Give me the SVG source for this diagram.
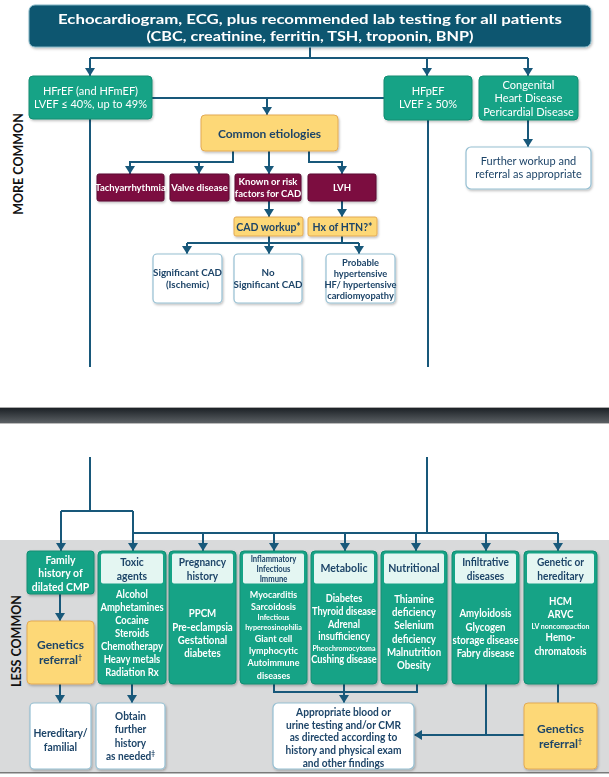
<svg xmlns="http://www.w3.org/2000/svg" width="609" height="777" viewBox="0 0 609 777">
<defs>
<style>
text{font-family:Lato,"Open Sans","Liberation Sans",sans-serif;text-anchor:middle}
.wb{fill:#fff;font-weight:bold}
.wr{fill:#fff;font-weight:normal}
.nb{fill:#1d4468;font-weight:bold}
.nr{fill:#1d4468;font-weight:normal}
.lab{fill:#111;font-weight:bold;font-size:12.5px}
.title{fill:#0f566f;stroke:#7fb3c4;stroke-width:1}
.grn{fill:#17a386;stroke:#0f8d72;stroke-width:1}
.hdr{fill:#e4f6f2}
.yel{fill:#fdd877;stroke:#e3aa55;stroke-width:1}
.mar{fill:#7b0b3f;stroke:#5a0830;stroke-width:1}
.wht{fill:#fff;stroke:#95bfd2;stroke-width:1.2}
.c{fill:none;stroke:#18587a;stroke-width:2}
.ca{fill:none;stroke:#18587a;stroke-width:2;marker-end:url(#ah)}
</style>
<marker id="ah" markerWidth="8" markerHeight="10" refX="8" refY="5" orient="auto" markerUnits="userSpaceOnUse"><path d="M0,0 L8,5 L0,10 z" fill="#18587a"/></marker>
<filter id="sh" x="-10%" y="-10%" width="130%" height="130%"><feDropShadow dx="1" dy="1.5" stdDeviation="1.2" flood-color="#000" flood-opacity="0.25"/></filter>
<linearGradient id="band" x1="0" y1="0" x2="0" y2="1"><stop offset="0" stop-color="#1c2126"/><stop offset="1" stop-color="#5b6064"/></linearGradient>
</defs>
<rect x="0" y="0" width="609" height="777" fill="#fff"/>
<rect x="0" y="540" width="609" height="232" fill="#d9dadb"/>
<rect x="0" y="772" width="609" height="1.5" fill="#7a7a7a"/>
<rect x="0" y="407" width="609" height="1" fill="#aaa"/>
<rect x="0" y="408" width="609" height="15" fill="url(#band)"/>
<rect x="0" y="423" width="609" height="1" fill="#bbb"/>

<g id="labels">
<text class="lab" transform="translate(23,164) rotate(-90)">MORE COMMON</text>
<text class="lab" transform="translate(21,641) rotate(-90)">LESS COMMON</text>
</g>

<g id="connectors">
<path class="c" d="M310,47 V58 M90,58 H528"/>
<path class="ca" d="M90,58 V76"/>
<path class="ca" d="M427,58 V76"/>
<path class="ca" d="M528,58 V76"/>
<path class="c" d="M152,98 H384"/>
<path class="ca" d="M267,98 V115"/>
<path class="ca" d="M528,120 V147"/>
<path class="ca" d="M233,151 V162 H130 V174"/>
<path class="ca" d="M199,162 V174"/>
<path class="ca" d="M269,151 V174"/>
<path class="ca" d="M309,151 V162 H342 V174"/>
<path class="ca" d="M269,201 V217"/>
<path class="ca" d="M342,201 V217"/>
<path class="c" d="M269,236 V243 M342,236 V243 M187,243 H359"/>
<path class="ca" d="M187,243 V254"/>
<path class="ca" d="M269,243 V254"/>
<path class="ca" d="M359,243 V254"/>
<path class="c" d="M90,119 V367"/>
<path class="c" d="M428,120 V367"/>
<path class="c" d="M90,457 V511 M61,511 H133 M427,457 V533 M133,533 H558"/>
<path class="ca" d="M61,511 V551"/>
<path class="ca" d="M133,511 V551"/>
<path class="ca" d="M203,533 V551"/>
<path class="ca" d="M274,533 V551"/>
<path class="ca" d="M345,533 V551"/>
<path class="ca" d="M416,533 V551"/>
<path class="ca" d="M486,533 V551"/>
<path class="ca" d="M558,533 V551"/>
<path class="ca" d="M60,594 V621"/>
<path class="ca" d="M60,684 V703"/>
<path class="ca" d="M132,684 V703"/>
<path class="c" d="M274,684 V692 H417 V684"/>
<path class="ca" d="M344,684 V703"/>
<path class="c" d="M486,684 V735"/>
<path class="ca" d="M524,735 H414"/>
<path class="c" d="M558,684 V703"/>
</g>

<g id="n-top" filter="url(#sh)">
<rect class="title" x="29" y="5" width="562" height="42" rx="6"/>
<text class="wb" x="310" y="23.5" font-size="14" textLength="504" lengthAdjust="spacingAndGlyphs">Echocardiogram, ECG, plus recommended lab testing for all patients</text>
<text class="wb" x="310" y="40.5" font-size="14" textLength="327" lengthAdjust="spacingAndGlyphs">(CBC, creatinine, ferritin, TSH, troponin, BNP)</text>
</g>
<g id="n-hfref" filter="url(#sh)">
<rect class="grn" x="29" y="76" width="123" height="43" rx="4"/>
<text class="wr" x="90.5" y="95" font-size="11">HFrEF (and HFmEF)</text>
<text class="wr" x="90.5" y="108.4" font-size="11">LVEF ≤ 40%, up to 49%</text>
</g>
<g id="n-hfpef" filter="url(#sh)">
<rect class="grn" x="384" y="76" width="88" height="44" rx="4"/>
<text class="wr" x="428" y="95" font-size="11">HFpEF</text>
<text class="wr" x="428" y="108.4" font-size="11">LVEF ≥ 50%</text>
</g>
<g id="n-congenital" filter="url(#sh)">
<rect class="grn" x="479" y="76" width="99" height="44" rx="4"/>
<text class="wr" x="528.5" y="89" font-size="11">Congenital</text>
<text class="wr" x="528.5" y="102.3" font-size="11">Heart Disease</text>
<text class="wr" x="528.5" y="115.6" font-size="11">Pericardial Disease</text>
</g>
<g id="n-further" filter="url(#sh)">
<rect class="wht" x="466" y="147" width="125" height="42" rx="5"/>
<text class="nr" x="528.5" y="165" font-size="11">Further workup and</text>
<text class="nr" x="528.5" y="178.4" font-size="11">referral as appropriate</text>
</g>
<g id="n-common" filter="url(#sh)">
<rect class="yel" x="201" y="115" width="137" height="36" rx="4"/>
<text class="nb" x="269.5" y="137.5" font-size="12">Common etiologies</text>
</g>
<g id="n-tachy" filter="url(#sh)">
<rect class="mar" x="97" y="174" width="67" height="27" rx="2"/>
<text class="wb" x="130.5" y="191" font-size="9.5">Tachyarrhythmia</text>
</g>
<g id="n-valve" filter="url(#sh)">
<rect class="mar" x="170" y="174" width="59" height="27" rx="2"/>
<text class="wb" x="199.5" y="191" font-size="9.5">Valve disease</text>
</g>
<g id="n-known" filter="url(#sh)">
<rect class="mar" x="235" y="174" width="66" height="27" rx="2"/>
<text class="wb" x="268" y="185.3" font-size="9.5">Known or risk</text>
<text class="wb" x="268" y="196.9" font-size="9.5">factors for CAD</text>
</g>
<g id="n-lvh" filter="url(#sh)">
<rect class="mar" x="308" y="174" width="68" height="27" rx="2"/>
<text class="wb" x="342" y="191" font-size="9.5">LVH</text>
</g>
<g id="n-cadwork" filter="url(#sh)">
<rect class="yel" x="234" y="217" width="69" height="19" rx="2"/>
<text class="nb" x="268.5" y="230.5" font-size="10.5">CAD workup*</text>
</g>
<g id="n-htn" filter="url(#sh)">
<rect class="yel" x="308" y="217" width="69" height="19" rx="2"/>
<text class="nb" x="342.5" y="230.5" font-size="10.5">Hx of HTN?*</text>
</g>
<g id="n-sigcad" filter="url(#sh)">
<rect class="wht" x="153" y="254" width="69" height="49" rx="4"/>
<text class="nb" x="187.5" y="276" font-size="9.8">Significant CAD</text>
<text class="nb" x="187.5" y="288" font-size="9.8">(Ischemic)</text>
</g>
<g id="n-nosig" filter="url(#sh)">
<rect class="wht" x="234" y="254" width="68" height="49" rx="4"/>
<text class="nb" x="268" y="276" font-size="9.8">No</text>
<text class="nb" x="268" y="288" font-size="9.8">Significant CAD</text>
</g>
<g id="n-probable" filter="url(#sh)">
<rect class="wht" x="326" y="254" width="69" height="49" rx="4"/>
<text class="nb" x="360.5" y="265.5" font-size="9.3">Probable</text>
<text class="nb" x="360.5" y="276.7" font-size="9.3">hypertensive</text>
<text class="nb" x="360.5" y="287.9" font-size="9.3">HF/ hypertensive</text>
<text class="nb" x="360.5" y="299.1" font-size="9.3">cardiomyopathy</text>
</g>

<g id="n-family" filter="url(#sh)">
<rect class="grn" x="27" y="551" width="67" height="43" rx="3"/>
<g transform="translate(60.5,0) scale(0.95,1)">
<text class="wb" x="0" y="564.2" font-size="11">Family</text>
<text class="wb" x="0" y="577.4" font-size="11">history of</text>
<text class="wb" x="0" y="590.6" font-size="11">dilated CMP</text>
</g>
</g>
<g id="n-genleft" filter="url(#sh)">
<rect class="yel" x="27" y="621" width="67" height="63" rx="4"/>
<text class="nb" x="60.5" y="649" font-size="12">Genetics</text>
<text class="nb" x="60.5" y="663.5" font-size="12">referral<tspan font-size="7" dy="-4">†</tspan></text>
</g>
<g id="n-toxic" filter="url(#sh)">
<rect class="grn" x="98" y="551" width="68" height="133" rx="4"/>
<rect class="hdr" x="101" y="553.5" width="62" height="30" rx="2"/>
<g transform="translate(132,0) scale(0.9,1)">
<text class="nb" x="0" y="566" font-size="11.5">Toxic</text>
<text class="nb" x="0" y="580" font-size="11.5">agents</text>
<text class="wb" x="0" y="598" font-size="10.5">Alcohol</text>
<text class="wb" x="0" y="611" font-size="10.5">Amphetamines</text>
<text class="wb" x="0" y="624" font-size="10.5">Cocaine</text>
<text class="wb" x="0" y="637" font-size="10.5">Steroids</text>
<text class="wb" x="0" y="650" font-size="10.5">Chemotherapy</text>
<text class="wb" x="0" y="663" font-size="10.5">Heavy metals</text>
<text class="wb" x="0" y="676" font-size="10.5">Radiation Rx</text>
</g>
</g>
<g id="n-pregnancy" filter="url(#sh)">
<rect class="grn" x="169" y="551" width="67" height="133" rx="4"/>
<rect class="hdr" x="172" y="553.5" width="61" height="30" rx="2"/>
<g transform="translate(202.5,0) scale(0.88,1)">
<text class="nb" x="0" y="566" font-size="11.5">Pregnancy</text>
<text class="nb" x="0" y="580" font-size="11.5">history</text>
<text class="wb" x="0" y="617.5" font-size="11">PPCM</text>
<text class="wb" x="0" y="630.8" font-size="11">Pre-eclampsia</text>
<text class="wb" x="0" y="644.1" font-size="11">Gestational</text>
<text class="wb" x="0" y="657.4" font-size="11">diabetes</text>
</g>
</g>
<g id="n-inflammatory" filter="url(#sh)">
<rect class="grn" x="240" y="551" width="67" height="133" rx="4"/>
<rect class="hdr" x="243" y="553.5" width="61" height="30" rx="2"/>
<g transform="translate(273.5,0) scale(0.9,1)">
<text class="nb" x="0" y="561.8" font-size="8.5">Inflammatory</text>
<text class="nb" x="0" y="572.1" font-size="8.5">Infectious</text>
<text class="nb" x="0" y="582.4" font-size="8.5">Immune</text>
<text class="wb" x="0" y="598" font-size="10">Myocarditis</text>
<text class="wb" x="0" y="610.2" font-size="10">Sarcoidosis</text>
<text class="wb" x="0" y="620.4" font-size="8">Infectious</text>
<text class="wb" x="0" y="630.2" font-size="8">hypereosinophilia</text>
<text class="wb" x="0" y="642" font-size="10">Giant cell</text>
<text class="wb" x="0" y="654.2" font-size="10">lymphocytic</text>
<text class="wb" x="0" y="666.4" font-size="10">Autoimmune</text>
<text class="wb" x="0" y="678.6" font-size="10">diseases</text>
</g>
</g>
<g id="n-metabolic" filter="url(#sh)">
<rect class="grn" x="311" y="551" width="66" height="133" rx="4"/>
<rect class="hdr" x="314" y="553.5" width="60" height="30" rx="2"/>
<g transform="translate(344,0) scale(0.88,1)">
<text class="nb" x="0" y="572.5" font-size="12">Metabolic</text>
<text class="wb" x="0" y="602" font-size="10.5">Diabetes</text>
<text class="wb" x="0" y="614.8" font-size="10.5">Thyroid disease</text>
<text class="wb" x="0" y="627.6" font-size="10.5">Adrenal</text>
<text class="wb" x="0" y="640.4" font-size="10.5">insufficiency</text>
<text class="wb" x="0" y="650.8" font-size="8">Pheochromocytoma</text>
<text class="wb" x="0" y="663.2" font-size="10.5">Cushing disease</text>
</g>
</g>
<g id="n-nutritional" filter="url(#sh)">
<rect class="grn" x="381" y="551" width="66" height="133" rx="4"/>
<rect class="hdr" x="384" y="553.5" width="60" height="30" rx="2"/>
<g transform="translate(414,0) scale(0.88,1)">
<text class="nb" x="0" y="572.5" font-size="12">Nutritional</text>
<text class="wb" x="0" y="603" font-size="11">Thiamine</text>
<text class="wb" x="0" y="616.2" font-size="11">deficiency</text>
<text class="wb" x="0" y="629.4" font-size="11">Selenium</text>
<text class="wb" x="0" y="642.6" font-size="11">deficiency</text>
<text class="wb" x="0" y="655.8" font-size="11">Malnutrition</text>
<text class="wb" x="0" y="669" font-size="11">Obesity</text>
</g>
</g>
<g id="n-infiltrative" filter="url(#sh)">
<rect class="grn" x="452" y="551" width="67" height="133" rx="4"/>
<rect class="hdr" x="455" y="553.5" width="61" height="30" rx="2"/>
<g transform="translate(485.5,0) scale(0.88,1)">
<text class="nb" x="0" y="566" font-size="11.5">Infiltrative</text>
<text class="nb" x="0" y="580" font-size="11.5">diseases</text>
<text class="wb" x="0" y="617.5" font-size="11">Amyloidosis</text>
<text class="wb" x="0" y="630.8" font-size="11">Glycogen</text>
<text class="wb" x="0" y="644.1" font-size="11">storage disease</text>
<text class="wb" x="0" y="657.4" font-size="11">Fabry disease</text>
</g>
</g>
<g id="n-genetic" filter="url(#sh)">
<rect class="grn" x="524" y="551" width="73" height="133" rx="4"/>
<rect class="hdr" x="527" y="553.5" width="67" height="30" rx="2"/>
<g transform="translate(560.5,0) scale(0.88,1)">
<text class="nb" x="0" y="566" font-size="11.5">Genetic or</text>
<text class="nb" x="0" y="580" font-size="11.5">hereditary</text>
<text class="wb" x="0" y="605" font-size="11">HCM</text>
<text class="wb" x="0" y="618.3" font-size="11">ARVC</text>
<text class="wb" x="0" y="628.6" font-size="8">LV noncompaction</text>
<text class="wb" x="0" y="641.3" font-size="11">Hemo-</text>
<text class="wb" x="0" y="654.6" font-size="11">chromatosis</text>
</g>
</g>
<g id="n-hereditary" filter="url(#sh)">
<rect class="wht" x="30" y="703" width="61" height="66" rx="4"/>
<g transform="translate(60.5,0) scale(0.9,1)">
<text class="nb" x="0" y="737" font-size="11.5">Hereditary/</text>
<text class="nb" x="0" y="751" font-size="11.5">familial</text>
</g>
</g>
<g id="n-obtain" filter="url(#sh)">
<rect class="wht" x="96" y="703" width="69" height="66" rx="4"/>
<g transform="translate(130.5,0) scale(0.92,1)">
<text class="nb" x="0" y="720" font-size="11">Obtain</text>
<text class="nb" x="0" y="733.3" font-size="11">further</text>
<text class="nb" x="0" y="746.6" font-size="11">history</text>
<text class="nb" x="0" y="759.9" font-size="11">as needed<tspan font-size="7" dy="-4">‡</tspan></text>
</g>
</g>
<g id="n-appropriate" filter="url(#sh)">
<rect class="wht" x="273" y="703" width="141" height="66" rx="5"/>
<g transform="translate(343.5,0) scale(0.97,1)">
<text class="nb" x="0" y="716" font-size="10.5">Appropriate blood or</text>
<text class="nb" x="0" y="728.7" font-size="10.5">urine testing and/or CMR</text>
<text class="nb" x="0" y="741.4" font-size="10.5">as directed according to</text>
<text class="nb" x="0" y="754.1" font-size="10.5">history and physical exam</text>
<text class="nb" x="0" y="766.8" font-size="10.5">and other findings</text>
</g>
</g>
<g id="n-genright" filter="url(#sh)">
<rect class="yel" x="524" y="703" width="73" height="66" rx="4"/>
<text class="nb" x="560.5" y="733" font-size="12">Genetics</text>
<text class="nb" x="560.5" y="747.5" font-size="12">referral<tspan font-size="7" dy="-4">†</tspan></text>
</g>
</svg>
